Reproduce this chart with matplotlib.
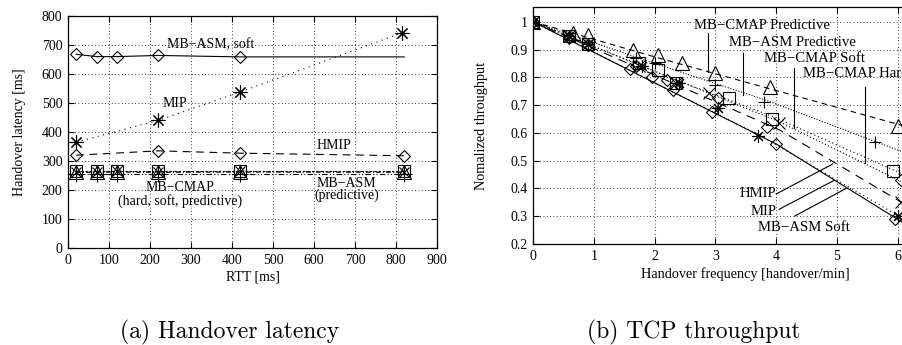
import matplotlib
matplotlib.use("Agg")
import matplotlib.pyplot as plt

plt.rcParams['font.family'] = ['Liberation Serif', 'DejaVu Serif']
plt.rcParams['font.size'] = 10

# ---- (a) handover latency vs RTT ----
rtt = [20, 70, 120, 220, 420, 820]
asm_soft_lat = [668, 660, 660, 664, 659, 659]
mip_rtt = [20, 220, 420, 815]
mip_lat = [365, 440, 538, 742]
hmip_rtt = [20, 220, 420, 820]
hmip_lat = [320, 335, 327, 318]
cmap_hard_lat = [266, 266, 266, 266, 266, 266]
cmap_soft_lat = [263, 263, 264, 263, 264, 263]
cmap_pred_lat = [261, 261, 262, 261, 262, 261]
asm_pred_lat = [256, 256, 256, 256, 256, 256]

# ---- (b) normalized throughput vs handover frequency ----
cp_x = [0, 0.65, 0.9, 1.65, 2.05, 2.45, 3.0, 3.9, 6.0]
cp_y = [1.0, 0.96, 0.952, 0.898, 0.88, 0.85, 0.815, 0.764, 0.625]
cp_lx = [0, 2.09, 6.1]
cp_ly = [1.0, 0.868, 0.625]

ap_x = [0, 0.6, 0.9, 1.7, 2.0, 2.35, 3.0, 3.8, 5.63]
ap_y = [1.0, 0.95, 0.92, 0.87, 0.85, 0.78, 0.772, 0.712, 0.568]
ap_lx = [0, 2.0, 3.8, 6.1]
ap_ly = [1.0, 0.85, 0.72, 0.53]

cs_x = [0, 0.6, 0.9, 1.75, 2.35, 2.9, 4.05, 6.05]
cs_y = [1.0, 0.95, 0.92, 0.84, 0.78, 0.745, 0.635, 0.35]
cs_lx = [0, 4.05, 6.1]
cs_ly = [1.0, 0.64, 0.42]

ch_x = [0, 0.6, 0.9, 1.75, 2.05, 2.35, 3.23, 3.93, 5.92]
ch_y = [1.0, 0.95, 0.92, 0.85, 0.825, 0.78, 0.727, 0.65, 0.463]
ch_lx = [0, 2.35, 3.93, 6.1]
ch_ly = [1.0, 0.79, 0.66, 0.45]

hm_x = [0, 0.6, 0.9, 1.7, 2.2, 3.05, 3.85, 6.05]
hm_y = [1.0, 0.945, 0.915, 0.84, 0.79, 0.725, 0.62, 0.43]
hm_lx = [0, 4.06, 6.1]
hm_ly = [1.0, 0.61, 0.345]

mip_x = [0, 0.6, 0.9, 1.8, 2.4, 3.05, 3.7, 6.0]
mip_y = [1.0, 0.95, 0.92, 0.84, 0.78, 0.69, 0.59, 0.30]
mip_lx = [0, 3.7, 6.1]
mip_ly = [1.0, 0.595, 0.29]

as_x = [0, 0.6, 0.9, 1.6, 1.95, 2.3, 2.95, 4.0, 5.95]
as_y = [1.0, 0.94, 0.915, 0.83, 0.80, 0.755, 0.675, 0.56, 0.29]
as_lx = [0, 4.0, 6.1]
as_ly = [1.0, 0.56, 0.275]

W, H = 902, 345
fig = plt.figure(figsize=(W / 100, H / 100), dpi=100)

def box(l, t, r, b):
    return [l / W, 1 - b / H, (r - l) / W, (b - t) / H]

def style(ax):
    ax.grid(True, linestyle=(0, (1, 3)), color='black', linewidth=0.6)
    ax.tick_params(direction='in', top=True, right=True, length=4, width=0.8, labelsize=10, pad=4)
    for s in ax.spines.values():
        s.set_linewidth(0.9)

star = (8, 2, 0)
mk = dict(color='black', linewidth=0.8, markerfacecolor='none', markeredgecolor='black', markeredgewidth=0.8)

# ---------- left ----------
ax1 = fig.add_axes(box(68, 16, 437, 248))
ax1.plot(rtt, asm_soft_lat, '-', marker='D', markersize=6, markevery=[0, 1, 2, 3, 4], **mk)
ax1.plot(mip_rtt, mip_lat, linestyle=(0, (1, 4)), marker=star, markersize=10, **mk)
ax1.plot(hmip_rtt, hmip_lat, linestyle=(0, (7, 5)), marker='D', markersize=6, **mk)
ax1.plot(rtt, cmap_hard_lat, linestyle=(0, (2, 2)), marker='s', markersize=8, **mk)
ax1.plot(rtt, cmap_soft_lat, linestyle=(0, (1, 2)), marker='x', markersize=7, **mk)
ax1.plot(rtt, cmap_pred_lat, linestyle=(0, (4, 2, 1, 2)), marker='^', markersize=10, **mk)
ax1.plot(rtt, asm_pred_lat, linestyle=(0, (5, 2, 1, 2, 1, 2)), marker='+', markersize=11, **mk)
ax1.set_xlim(0, 900)
ax1.set_ylim(0, 800)
ax1.set_xticks(range(0, 901, 100))
ax1.set_yticks(range(0, 801, 100))
ax1.set_xlabel('RTT [ms]', fontsize=10, labelpad=3)
ax1.set_ylabel('Handover latency [ms]', fontsize=10, labelpad=11)
style(ax1)
ax1.text(241, 700, 'MB\u2212ASM, soft', fontsize=10, va='center')
ax1.text(231, 498, 'MIP', fontsize=10, va='center')
ax1.text(606, 354, 'HMIP', fontsize=10, va='center')
ax1.text(273, 208, 'MB\u2212CMAP', fontsize=10, ha='center', va='center')
ax1.text(273, 162, '(hard, soft, predictive)', fontsize=10, ha='center', va='center')
ax1.text(680, 224, 'MB\u2212ASM', fontsize=10, ha='center', va='center')
ax1.text(680, 182, '(predictive)', fontsize=10, ha='center', va='center')

# ---------- right ----------
ax2 = fig.add_axes(box(533, 7, 533 + 7 * 60.8, 244))
ax2.plot(cp_lx, cp_ly, linestyle=(0, (5, 4)), color='black', linewidth=0.8)
ax2.plot(cp_x, cp_y, linestyle='none', marker='^', markersize=10, **mk)
ax2.plot(ap_lx, ap_ly, linestyle=(0, (1, 1.5)), color='black', linewidth=0.8)
ax2.plot(ap_x, ap_y, linestyle='none', marker='+', markersize=9, **mk)
ax2.plot(cs_lx, cs_ly, linestyle=(0, (1, 2)), color='black', linewidth=0.8)
ax2.plot(cs_x, cs_y, linestyle='none', marker='x', markersize=8, **mk)
ax2.plot(ch_lx, ch_ly, linestyle=(0, (1, 2.5)), color='black', linewidth=0.8)
ax2.plot(ch_x, ch_y, linestyle='none', marker='s', markersize=9, **mk)
ax2.plot(hm_lx, hm_ly, linestyle=(0, (8, 6)), color='black', linewidth=0.8)
ax2.plot(hm_x, hm_y, linestyle='none', marker='D', markersize=6, **mk)
ax2.plot(mip_lx, mip_ly, linestyle=(0, (1, 3)), color='black', linewidth=0.8)
ax2.plot(mip_x, mip_y, linestyle='none', marker=star, markersize=9, **mk)
ax2.plot(as_lx, as_ly, '-', color='black', linewidth=0.8)
ax2.plot(as_x, as_y, linestyle='none', marker='D', markersize=6, **mk)
ax2.set_xlim(0, 7)
ax2.set_ylim(0.2, 1.053)
ax2.set_xticks(range(0, 8))
ax2.set_yticks([0.2, 0.3, 0.4, 0.5, 0.6, 0.7, 0.8, 0.9, 1.0])
ax2.set_yticklabels(['0.2', '0.3', '0.4', '0.5', '0.6', '0.7', '0.8', '0.9', '1'])
ax2.set_xlabel('Handover frequency [handover/min]', fontsize=10.3, labelpad=3)
ax2.set_ylabel('Nomalized throughput', fontsize=10.3, labelpad=16)
style(ax2)
ax2.spines['right'].set_visible(False)

labels = [('MB\u2212CMAP Predictive', 2.65, 0.985, 2.88, 0.96, 0.82),
          ('MB\u2212ASM Predictive', 3.23, 0.924, 3.46, 0.887, 0.736),
          ('MB\u2212CMAP Soft', 3.80, 0.868, 4.30, 0.832, 0.616),
          ('MB\u2212CMAP Hard', 4.44, 0.812, 5.46, 0.764, 0.49)]
for txt, tx, ty, px, y0, y1 in labels:
    ax2.text(tx, ty, txt, fontsize=10.6, va='center')
    ax2.plot([px, px], [y0, y1], color='black', linewidth=0.8)

ax2.text(4.0, 0.38, 'HMIP', fontsize=10.6, ha='right', va='center')
ax2.plot([4.0, 4.93], [0.38, 0.488], color='black', linewidth=0.8)
ax2.text(4.0, 0.317, 'MIP', fontsize=10.6, ha='right', va='center')
ax2.plot([4.05, 4.96], [0.325, 0.43], color='black', linewidth=0.8)
ax2.text(3.70, 0.259, 'MB\u2212ASM Soft', fontsize=10.6, va='center')
ax2.plot([4.3, 5.15], [0.30, 0.40], color='black', linewidth=0.8)

fig.text(230 / W, 1 - 332 / H, '(a) Handover latency', family='cmr10', fontsize=17, ha='center', va='center')
fig.text(694 / W, 1 - 332 / H, '(b) TCP throughput', family='cmr10', fontsize=17, ha='center', va='center')

fig.savefig('out.png', dpi=100)
